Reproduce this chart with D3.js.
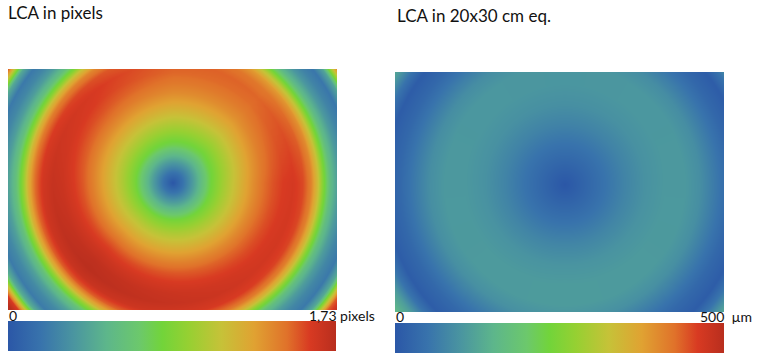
<!DOCTYPE html>
<html>
<head>
<meta charset="utf-8">
<script src="https://cdn.jsdelivr.net/npm/d3@7"></script>
<style>
  html, body { margin: 0; padding: 0; background: #ffffff; }
  svg { display: block; }
  text { font-family: Lato, "Open Sans", sans-serif; fill: #111; }
</style>
</head>
<body>
<svg id="chart" width="770" height="358"></svg>
<script>
// ---------------- data ----------------
// Colour map: fraction of the colour-bar range -> colour
const cmapStops  = [0.00, 0.10, 0.20, 0.30, 0.40, 0.47, 0.55, 0.65, 0.75, 0.85, 0.92, 1.00];
const cmapColors = ["#2b57a7", "#3873ac", "#4a95a0", "#5db68b", "#6cc86c", "#72d43a",
                    "#96d032", "#c6c238", "#e0a232", "#e0722a", "#d83a22", "#b82e1e"];

// Panel 1: LCA in pixels, radial profile (radius from optical centre, px on screen)
const leftTitle   = "LCA in pixels";
const leftMax     = 1.73;
const leftTicks   = ["0", "1,73 pixels"];
const leftRadius  = [0, 10, 20, 30, 38, 50, 60, 70, 80, 90, 100, 110, 120, 130, 138, 145, 150, 157, 165, 172, 180, 188, 194, 200, 210];
const leftLCA     = [0, 0.17, 0.38, 0.62, 0.81, 0.99, 1.12, 1.25, 1.37, 1.47, 1.54, 1.59, 1.61, 1.56, 1.42, 1.15, 0.88, 0.58, 0.38, 0.27, 0.20, 0.45, 1.00, 1.50, 1.73];
// angular gain (0 = right, 90 = down, 180 = left, 270 = up)
const leftAngle   = [0, 45, 90, 135, 180, 225, 270, 315, 360];
const leftGain    = [1.00, 1.01, 1.04, 1.07, 1.04, 1.00, 0.94, 0.93, 1.00];

// Panel 2: LCA in 20x30 cm equivalent (µm)
const rightTitle  = "LCA in 20x30 cm eq.";
const rightMax    = 500;
const rightTicks  = ["0", "500  µm"];
const rightRadius = [0, 20, 40, 60, 80, 100, 120, 135, 150, 165, 180, 190, 200, 210];
const rightLCA    = [0, 25, 50, 75, 95, 105, 105, 90, 60, 30, 10, 50, 110, 150];
const rightAngle  = [0, 90, 180, 270, 360];
const rightGain   = [1.00, 1.04, 1.00, 0.96, 1.00];

// ---------------- layout ----------------
const panels = [
  { title: leftTitle, titleX: 8, titleY: 19, max: leftMax, ticks: leftTicks,
    radius: leftRadius, lca: leftLCA, angle: leftAngle, gain: leftGain,
    map: { x: 8, y: 69, w: 329, h: 241, cx: 165, cy: 114 },
    bar: { x: 8, y: 321, w: 328, h: 30 }, tickY: 321, tickShift: 27 },
  { title: rightTitle, titleX: 397, titleY: 22, max: rightMax, ticks: rightTicks,
    radius: rightRadius, lca: rightLCA, angle: rightAngle, gain: rightGain,
    map: { x: 395, y: 72, w: 329, h: 240, cx: 170, cy: 113 },
    bar: { x: 395, y: 323, w: 329, h: 30 }, tickY: 322, tickShift: 24 }
];

const svg = d3.select("#chart");
const cmap = d3.scaleLinear().domain(cmapStops).range(cmapColors)
  .interpolate(d3.interpolateRgb).clamp(true);

const defs = svg.append("defs");

panels.forEach((p, i) => {
  // heat map drawn into a canvas through d3 scales, then placed in the svg
  const prof = d3.scaleLinear().domain(p.radius).range(p.lca).clamp(true);
  const gainS = d3.scaleLinear().domain(p.angle).range(p.gain);
  const norm = d3.scaleLinear().domain([0, p.max]).range([0, 1]).clamp(true);
  const m = p.map;
  const canvas = document.createElement("canvas");
  canvas.width = m.w; canvas.height = m.h;
  const ctx = canvas.getContext("2d");
  const img = ctx.createImageData(m.w, m.h);
  for (let y = 0; y < m.h; y++) {
    for (let x = 0; x < m.w; x++) {
      const dx = x + 0.5 - m.cx, dy = y + 0.5 - m.cy;
      const r = Math.hypot(dx, dy);
      let a = Math.atan2(dy, dx) * 180 / Math.PI; if (a < 0) a += 360;
      const v = prof(r) * gainS(a);
      const c = d3.rgb(cmap(norm(v)));
      const k = (y * m.w + x) * 4;
      img.data[k] = c.r; img.data[k + 1] = c.g; img.data[k + 2] = c.b; img.data[k + 3] = 255;
    }
  }
  ctx.putImageData(img, 0, 0);
  svg.append("image")
    .attr("x", m.x).attr("y", m.y).attr("width", m.w).attr("height", m.h)
    .attr("preserveAspectRatio", "none")
    .attr("href", canvas.toDataURL());

  // title
  svg.append("text").attr("x", p.titleX).attr("y", p.titleY)
    .attr("font-size", 17).text(p.title);

  // colour bar
  const gid = "grad" + i;
  const g = defs.append("linearGradient").attr("id", gid)
    .attr("x1", "0%").attr("x2", "100%").attr("y1", "0%").attr("y2", "0%");
  cmapStops.forEach((s, j) => g.append("stop")
    .attr("offset", (s * 100) + "%").attr("stop-color", cmapColors[j]));
  svg.append("rect").attr("x", p.bar.x).attr("y", p.bar.y)
    .attr("width", p.bar.w).attr("height", p.bar.h).attr("fill", `url(#${gid})`);

  // colour bar labels
  const bx = d3.scaleLinear().domain([0, p.max]).range([p.bar.x, p.bar.x + p.bar.w]);
  svg.append("text").attr("x", bx(0) + 1).attr("y", p.tickY)
    .attr("font-size", 14).text(p.ticks[0]);
  svg.append("text").attr("x", bx(p.max) - p.tickShift).attr("y", p.tickY)
    .attr("font-size", 14).style("white-space", "pre")
    .text(p.ticks[1]);
});
</script>
</body>
</html>
